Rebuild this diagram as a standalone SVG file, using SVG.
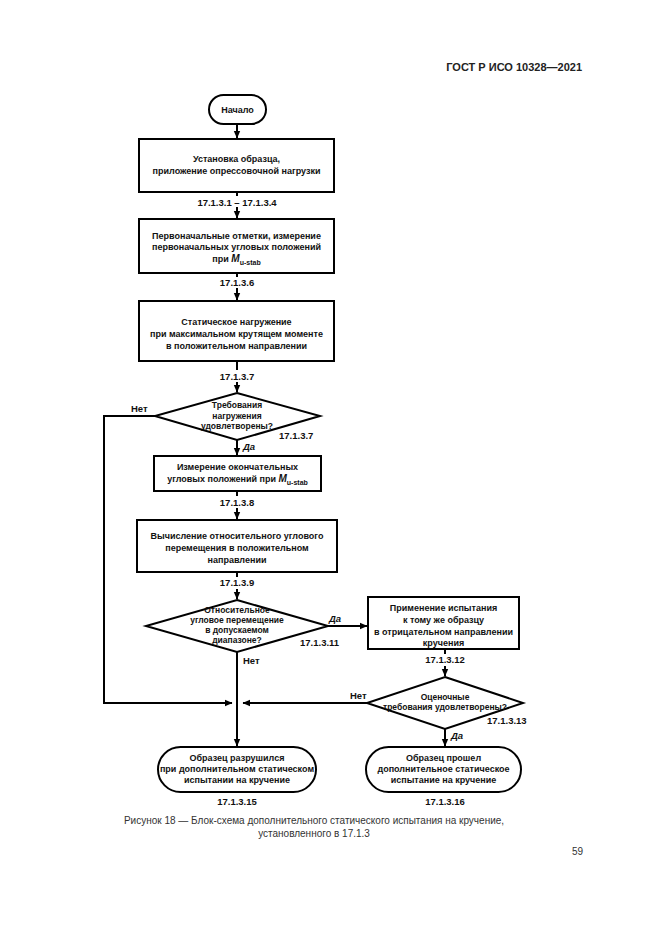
<svg xmlns="http://www.w3.org/2000/svg" width="661" height="935" viewBox="0 0 661 935">
<defs>
<style>
.bg{fill:#fff}
.n{fill:#fff;stroke:#000;stroke-width:2}
.t{font-family:"Liberation Sans",Arial,sans-serif;font-weight:bold;font-size:9px;fill:#111;text-anchor:middle}
.d{font-size:8.5px}
.l{font-family:"Liberation Sans",Arial,sans-serif;font-weight:bold;font-size:9.5px;fill:#111}
.c{fill:none;stroke:#000;stroke-width:2}
.cap{font-family:"Liberation Sans",Arial,sans-serif;font-size:10px;fill:#333}
</style>
<marker id="ah" markerWidth="8" markerHeight="8" refX="7" refY="4" orient="auto" markerUnits="userSpaceOnUse">
<path d="M0,0.8 L7.5,4 L0,7.2 Z" fill="#000"/>
</marker>
</defs>
<rect class="bg" width="661" height="935"/>
<text x="582" y="71" text-anchor="end" style="font-family:'Liberation Sans',Arial,sans-serif;font-weight:bold;font-size:11px;fill:#222">ГОСТ Р ИСО 10328—2021</text>

<g id="connectors">
<path class="c" d="M237,124 V138" marker-end="url(#ah)"/>
<path class="c" d="M237,192 V196"/>
<path class="c" d="M237,207 V218" marker-end="url(#ah)"/>
<path class="c" d="M237,273 V277"/>
<path class="c" d="M237,288 V300" marker-end="url(#ah)"/>
<path class="c" d="M237,361 V370"/>
<path class="c" d="M237,382 V392" marker-end="url(#ah)"/>
<path class="c" d="M237,440 V455" marker-end="url(#ah)"/>
<path class="c" d="M237,491 V496"/>
<path class="c" d="M237,508 V519" marker-end="url(#ah)"/>
<path class="c" d="M237,572 V577"/>
<path class="c" d="M237,589 V599" marker-end="url(#ah)"/>
<path class="c" d="M328,626 H367" marker-end="url(#ah)"/>
<path class="c" d="M445,649 V654"/>
<path class="c" d="M445,666 V676" marker-end="url(#ah)"/>
<path class="c" d="M445,729 V746" marker-end="url(#ah)"/>
<path class="c" d="M237,652 V746" marker-end="url(#ah)"/>
<path class="c" d="M367,703 H243" marker-end="url(#ah)"/>
<path class="c" d="M155,416 H104 V703 H232" marker-end="url(#ah)"/>
</g>

<g id="start">
<rect class="n" x="209" y="95" width="57" height="29" rx="14.5"/>
<text class="t" x="237.5" y="113">Начало</text>
</g>

<g id="n1">
<rect class="n" x="139" y="139" width="195" height="53"/>
<text class="t" x="236.5" y="162">Установка образца,</text>
<text class="t" x="236.5" y="174">приложение опрессовочной нагрузки</text>
</g>
<text class="l" x="237" y="206" text-anchor="middle">17.1.3.1 – 17.1.3.4</text>

<g id="n2">
<rect class="n" x="139" y="219" width="195" height="54"/>
<text class="t" x="236.5" y="239">Первоначальные отметки, измерение</text>
<text class="t" x="236.5" y="250">первоначальных угловых положений</text>
<text class="t" x="236.5" y="262">при <tspan font-style="italic" font-size="10px">M</tspan><tspan dy="2.5" font-size="7px">u-stab</tspan></text>
</g>
<text class="l" x="237" y="286" text-anchor="middle">17.1.3.6</text>

<g id="n3">
<rect class="n" x="139" y="301" width="195" height="60"/>
<text class="t" x="236.5" y="325">Статическое нагружение</text>
<text class="t" x="236.5" y="337">при максимальном крутящем моменте</text>
<text class="t" x="236.5" y="349">в положительном направлении</text>
</g>
<text class="l" x="237" y="380" text-anchor="middle">17.1.3.7</text>

<g id="d1">
<polygon class="n" points="237,393 320,416 237,440 155,416"/>
<text class="t d" x="237" y="408">Требования</text>
<text class="t d" x="237" y="419">нагружения</text>
<text class="t d" x="237" y="429">удовлетворены?</text>
</g>
<text class="l" x="279" y="439">17.1.3.7</text>
<text class="l" x="131" y="412">Нет</text>
<text class="l" x="243" y="450" style="font-style:italic">Да</text>

<g id="n4">
<rect class="n" x="154" y="456" width="167" height="35"/>
<text class="t" x="237.5" y="470">Измерение окончательных</text>
<text class="t" x="237.5" y="482">угловых положений при <tspan font-style="italic" font-size="10px">M</tspan><tspan dy="2.5" font-size="7px">u-stab</tspan></text>
</g>
<text class="l" x="237" y="506" text-anchor="middle">17.1.3.8</text>

<g id="n5">
<rect class="n" x="137" y="520" width="200" height="52"/>
<text class="t" x="237" y="539">Вычисление относительного углового</text>
<text class="t" x="237" y="551">перемещения в положительном</text>
<text class="t" x="237" y="563">направлении</text>
</g>
<text class="l" x="237" y="586" text-anchor="middle">17.1.3.9</text>

<g id="d2">
<polygon class="n" points="237,600 328,626 237,652 146,626"/>
<text class="t d" x="237" y="613">Относительное</text>
<text class="t d" x="237" y="623">угловое перемещение</text>
<text class="t d" x="237" y="633">в допускаемом</text>
<text class="t d" x="237" y="643">диапазоне?</text>
</g>
<text class="l" x="300" y="646">17.1.3.11</text>
<text class="l" x="329" y="622" style="font-style:italic">Да</text>
<text class="l" x="243" y="664">Нет</text>

<g id="n6">
<rect class="n" x="368" y="597" width="151" height="52"/>
<text class="t" x="443.5" y="611">Применение испытания</text>
<text class="t" x="443.5" y="623">к тому же образцу</text>
<text class="t" x="443.5" y="635">в отрицательном направлении</text>
<text class="t" x="443.5" y="646">кручения</text>
</g>
<text class="l" x="445" y="663" text-anchor="middle">17.1.3.12</text>

<g id="d3">
<polygon class="n" points="445,677 523,703 445,729 367,703"/>
<text class="t d" x="445" y="700">Оценочные</text>
<text class="t d" x="445" y="710">требования удовлетворены?</text>
</g>
<text class="l" x="487" y="724">17.1.3.13</text>
<text class="l" x="350" y="699">Нет</text>
<text class="l" x="451" y="739" style="font-style:italic">Да</text>

<g id="end1">
<rect class="n" x="158" y="747" width="158" height="45" rx="22.5"/>
<text class="t" x="237" y="761">Образец разрушился</text>
<text class="t" x="237" y="772">при дополнительном статическом</text>
<text class="t" x="237" y="783">испытании на кручение</text>
</g>
<text class="l" x="237" y="805" text-anchor="middle">17.1.3.15</text>

<g id="end2">
<rect class="n" x="366" y="747" width="155" height="45" rx="22.5"/>
<text class="t" x="443.5" y="761">Образец прошел</text>
<text class="t" x="443.5" y="772">дополнительное статическое</text>
<text class="t" x="443.5" y="783">испытание на кручение</text>
</g>
<text class="l" x="445" y="805" text-anchor="middle">17.1.3.16</text>

<text class="cap" x="314" y="824" text-anchor="middle">Рисунок 18 — Блок-схема дополнительного статического испытания на кручение,</text>
<text class="cap" x="314" y="837" text-anchor="middle">установленного в 17.1.3</text>
<text class="cap" x="583" y="855" text-anchor="end">59</text>
</svg>
